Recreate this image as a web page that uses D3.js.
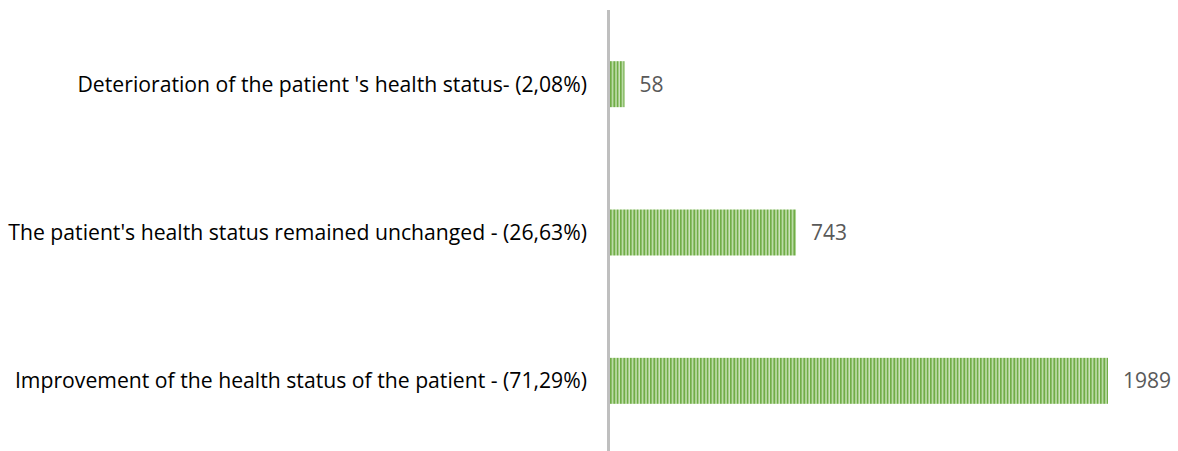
<!DOCTYPE html>
<html><head><meta charset="utf-8">
<script src="https://cdn.jsdelivr.net/npm/d3@7"></script>
<style>body{margin:0;background:#fff}</style>
</head><body>
<svg id="c" width="1178" height="451"></svg>
<script>
const categories = [
  "Deterioration of the patient 's health status- (2,08%)",
  "The patient's health status remained unchanged - (26,63%)",
  "Improvement of the health status of the patient - (71,29%)"
];
const values = [58, 743, 1989];

const svg = d3.select("#c");
const defs = svg.append("defs");
const pat = defs.append("pattern").attr("id","stripes").attr("patternUnits","userSpaceOnUse")
  .attr("width",10).attr("height",10);
pat.append("rect").attr("width",10).attr("height",10).attr("fill","#d4e8c6");
[0, 3.33, 6.67].forEach(o=>{
  pat.append("rect").attr("x",o).attr("width",1.8).attr("height",10).attr("fill","#70ad47");
  pat.append("rect").attr("x",o+1.8).attr("width",0.7).attr("height",10).attr("fill","#a3cf86");
});

const x = d3.scaleLinear().domain([0, 1989]).range([610, 1108]);
const y = d3.scaleBand().domain(categories).range([10, 455]).paddingInner(0.69).paddingOuter(0.345);

svg.selectAll("rect.bar").data(values).join("rect").attr("class","bar")
  .attr("x", x(0)).attr("y",(d,i)=>y(categories[i]))
  .attr("width", d=>x(d)-x(0)).attr("height", y.bandwidth())
  .attr("fill","url(#stripes)");

svg.append("line").attr("x1",608.5).attr("x2",608.5).attr("y1",10).attr("y2",451)
  .attr("stroke","#bfbfbf").attr("stroke-width",3);

svg.selectAll("text.cat").data(categories).join("text").attr("class","cat")
  .attr("x",587).attr("y",d=>y(d)+y.bandwidth()/2).attr("dy","0.35em")
  .attr("text-anchor","end").attr("font-family","Open Sans").attr("font-size",21.2)
  .attr("fill","#000").text(d=>d);

svg.selectAll("text.val").data(values).join("text").attr("class","val")
  .attr("x",d=>x(d)+15).attr("y",(d,i)=>y(categories[i])+y.bandwidth()/2).attr("dy","0.35em")
  .attr("font-family","Open Sans").attr("font-size",21)
  .attr("fill","#595959").text(d=>d);
</script>
</body></html>
